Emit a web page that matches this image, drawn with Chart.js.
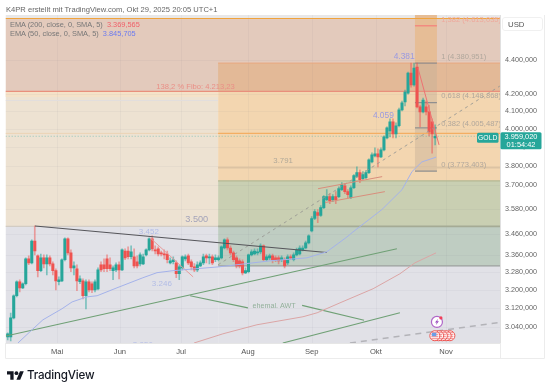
<!DOCTYPE html>
<html><head><meta charset="utf-8">
<script src="https://cdn.jsdelivr.net/npm/chart.js@4"></script>
<style>
html,body{margin:0;padding:0;background:#fff}
#wrap{position:relative;width:550px;height:392px;overflow:hidden;font-family:"Liberation Sans",Arial,sans-serif}
canvas{position:absolute;left:0;top:0;filter:blur(.3px)}
.t{position:absolute;white-space:nowrap}
</style></head><body>
<div id="wrap">
<canvas id="c" width="550" height="392"></canvas>
<div class="t" style="left:6px;top:5px;font-size:7.6px;line-height:10px;color:#666">K4PR erstellt mit TradingView.com, Okt 29, 2025 20:05 UTC+1</div>
<div class="t" style="left:10px;top:20px;font-size:7.4px;line-height:10px;color:#777">EMA (200, close, 0, SMA, 5)&nbsp; <span style="color:#f0606a">3.369,565</span></div>
<div class="t" style="left:10px;top:29px;font-size:7.4px;line-height:10px;color:#777">EMA (50, close, 0, SMA, 5)&nbsp; <span style="color:#6a7af0">3.845,705</span></div>
<div class="t" style="left:502px;top:17px;width:41px;height:14px;box-sizing:border-box;border:1px solid #f0f0f0;border-radius:3px;font-size:7.8px;line-height:13px;color:#555;padding-left:5px">USD</div>
<svg class="t" style="left:7px;top:371px" width="17" height="9" viewBox="0 0 36 18"><path d="M14 18H7V7H0V0h14v18zM28 18h-8L27.5 0h8L28 18z" fill="#131722"/><circle cx="20" cy="4" r="4" fill="#131722"/></svg>
<div class="t" style="left:27px;top:368px;font-size:11.6px;line-height:14px;font-weight:500;font-family:Inter,sans-serif;color:#131722;letter-spacing:-.2px">TradingView</div>
</div>
<script>
const opens=[2999,2999,3079,3175,3237,3210,3228,3341,3323,3425,
3355,3287,3346,3318,3346,3318,3287,3237,3241,3337,
3435,3369,3300,3296,3237,3241,3175,3237,3228,3201,
3205,3314,3314,3341,3314,3287,3291,3314,3291,3378,
3378,3351,3351,3328,3318,3318,3360,3383,3435,3383,
3388,3369,3364,3364,3323,3328,3323,3273,3300,3341,
3355,3328,3305,3291,3309,3323,3355,3346,3351,3337,
3337,3346,3392,3430,3392,3369,3346,3332,3328,3277,
3282,3360,3364,3369,3374,3402,3337,3346,3355,3346,
3346,3337,3337,3323,3351,3337,3360,3364,3383,3392,
3416,3473,3533,3562,3548,3587,3627,3642,3627,3642,
3642,3677,3697,3667,3637,3687,3744,3765,3733,3739,
3765,3821,3853,3864,3848,3885,3950,3988,4039,3972,
4017,4106,4152,4203,4321,4250,4357,4123,4095,4123,
4095,4039,3950];
const highs=[3016,3100,3179,3241,3246,3232,3346,3355,3430,3497,
3360,3364,3360,3360,3355,3328,3296,3259,3341,3440,
3440,3383,3328,3314,3264,3250,3246,3246,3237,3246,
3300,3328,3341,3360,3346,3309,3323,3328,3388,3388,
3397,3402,3388,3355,3369,3364,3388,3440,3450,3402,
3397,3378,3383,3378,3346,3351,3332,3314,3355,3360,
3364,3337,3319,3328,3332,3364,3364,3364,3360,3360,
3355,3402,3435,3440,3402,3378,3355,3341,3337,3300,
3364,3383,3388,3388,3411,3407,3360,3364,3364,3355,
3355,3355,3346,3360,3360,3369,3392,3402,3402,3425,
3454,3543,3577,3577,3597,3647,3677,3657,3652,3667,
3692,3713,3708,3677,3697,3754,3795,3780,3770,3775,
3837,3869,3896,3891,3896,3961,4011,4056,4056,4034,
4117,4157,4221,4327,4381,4381,4381,4134,4174,4157,
4134,4056,4022];
const lows=[2987,2983,3075,3170,3192,3206,3223,3314,3318,3360,
3259,3282,3300,3268,3309,3268,3201,3223,3237,3332,
3360,3282,3268,3197,3228,3161,3118,3192,3188,3192,
3201,3282,3282,3282,3287,3246,3282,3250,3287,3337,
3341,3341,3300,3300,3309,3314,3355,3378,3378,3364,
3355,3355,3341,3323,3318,3318,3255,3246,3291,3332,
3314,3291,3282,3282,3305,3314,3323,3318,3314,3328,
3332,3341,3388,3383,3360,3328,3300,3300,3268,3273,
3277,3355,3360,3360,3364,3332,3332,3337,3323,3328,
3318,3328,3300,3314,3337,3332,3355,3360,3378,3388,
3411,3468,3528,3513,3543,3582,3622,3607,3617,3607,
3637,3672,3657,3637,3632,3682,3739,3713,3728,3733,
3760,3816,3848,3795,3843,3880,3945,3956,3950,3950,
4011,4100,4129,4197,4238,4244,4117,4011,4089,4078,
3961,3868,3912];
const closes=[3012,3079,3175,3237,3210,3228,3341,3323,3425,3378,
3287,3346,3318,3346,3318,3287,3241,3246,3337,3435,
3369,3300,3309,3241,3250,3175,3237,3201,3201,3237,
3291,3291,3296,3296,3296,3300,3314,3291,3383,3346,
3351,3374,3309,3309,3360,3351,3383,3435,3388,3378,
3364,3364,3360,3337,3332,3337,3273,3305,3351,3351,
3323,3305,3291,3314,3323,3351,3346,3351,3323,3346,
3346,3397,3430,3392,3369,3337,3309,3309,3277,3287,
3360,3374,3378,3374,3402,3337,3351,3355,3337,3337,
3332,3346,3309,3351,3346,3360,3383,3392,3392,3416,
3450,3533,3567,3548,3587,3642,3642,3622,3642,3627,
3682,3702,3667,3652,3687,3749,3765,3728,3754,3765,
3832,3858,3864,3848,3885,3956,4005,4039,3972,4017,
4106,4146,4209,4321,4250,4351,4123,4095,4163,4095,
3983,3972,3959];
const priceTicks=[4400,4200,4100,4000,3900,3800,3700,3580,3460,3360,3280,3200,3120,3040];
const monthLabels=["Mai","Jun","Jul","Aug","Sep","Okt","Nov"];
const monthPos=[16.4,37.3,57.6,79.8,101,122.3,145.6];
const ema50=[[3.4,2974],[8.1,3029],[11.7,3071],[18,3118],[21.4,3148],[26.3,3170],[29.7,3175],[36.3,3210],[44.9,3255],[49.6,3278],[54.9,3287],[70.5,3305],[87.1,3332],[99.4,3346],[106,3374],[112.7,3444],[114.7,3468],[124.3,3577],[131,3677],[134.3,3770],[137.6,3821],[142.3,3846]];
const ema200=[[61.9,2974],[71.5,3012],[82.8,3050],[98.1,3084],[102.8,3101],[110.4,3144],[121.4,3206],[130.3,3273],[135.3,3323],[142.3,3369]];
const trendBlack=[[9.07,3497],[106,3371]];
const greenMain=[[-0.6,3003],[129.3,3388]];
const awtA=[[60.6,3175],[79.8,3122]];
const awtB=[[97.8,3133],[118.4,3069]];
const greenLow=[[91.4,2974],[130.3,3101]];
const pinkFall=[[47.3,3440],[61.6,3259]];
const channelUp=[[103.1,3682],[124.4,3744]];
const channelLow=[[105.4,3612],[125.3,3667]];
const redFall=[[136.3,4351],[143.3,3912]];
const dashMain=[[69.9,3314],[163.5,4244]];
const dashLow=[[113.7,2974],[163.5,3060]];
const XMIN=-0.73,XMAX=163.55,PMIN=2974,PMAX=4682.5;
const XFIB=69.9,XBOX0=135.3,XBOX1=142.6;
const zones=[
 [XMIN,XMAX,PMAX,4660,"#e9e8e8"],
 [XMIN,XMAX,4660,4213,"#e3cabc"],
 [XFIB,XMAX,4381,4213,"#e3b997"],
 [XMIN,XFIB,4213,3495,"#ede2d2"],
 [XFIB,XMAX,4213,3722,"#f3d6b0"],
 [XMIN,XFIB,4213,4180,"#f5e2c8"],
 [XFIB,XMAX,3722,3495,"#c9cfb2"],
 [XMIN,XFIB,3495,PMIN,"#e1e1e7"],
 [XFIB,XMAX,3495,3309,"#bfcdc2"],
 [XFIB,XMAX,3309,PMIN,"#e1e1e7"],
 [XBOX0,XBOX1,PMAX,4381,"#e6bd96"],
 [XBOX0,XBOX1,4381,4213,"#d6b597"],
 [XBOX0,XBOX1,4213,3773,"#dfc5a5"]
];
const hLines=[
 [XMIN,XMAX,4660,"#f0a33c",1.2],
 [XMIN,XMAX,4213,"#e98f7c",1.2],
 [XFIB,XMAX,4381,"#e9a77e",1],
 [XMIN,XFIB,4160,"#e2dedd",1],
 [XFIB,XMAX,3791,"#dcc3a3",1.6],
 [XMIN,XFIB,3975,"#ecd3b4",1],
 [XFIB,XMAX,3975,"#f4ae62",1.1],
 [XFIB,XMAX,3722,"#b4b791",1.4],
 [XMIN,XFIB,3495,"#d2ccc4",1.4],
 [XFIB,XMAX,3495,"#a5ab95",1.8],
 [XFIB,XMAX,3309,"#9a9f9d",1.4],
 [XBOX0,XBOX1,4613,"#f28b80",1.4],
 [XBOX0,XBOX1,4381,"#8f8f8f",1.2],
 [XBOX0,XBOX1,4148,"#8f8f8f",1.2],
 [XBOX0,XBOX1,4005,"#8f8f8f",1.2],
 [XBOX0,XBOX1,3773,"#8f8f8f",1.2]
];
const labels=[
 ["4.381",131.7,4420,"#9a9ae0",8.4,"center"],
 ["4.059",124.8,4071,"#9a9ae0",8.4,"center"],
 ["3.791",91.5,3827,"#b0a898",7.8,"center"],
 ["3.500",62.8,3527,"#a4a4ba",9.2,"center"],
 ["3.452",46.9,3470,"#b2bce6",8,"center"],
 ["3.246",51.2,3226,"#b2bce6",8,"center"],
 ["3.056",44.9,2966,"#b2bce6",8,"center"],
 ["ehemal. AWT",88.5,3128,"#92b09a",7.2,"center"],
 ["138,2 % Fibo: 4.213,23",62.4,4237,"#ea8f86",7.6,"center"],
 ["1,382 (4.613,035)",144,4650,"#eea99c",7.6,"left"],
 ["1 (4.380,951)",144,4418,"#b0a79c",7.6,"left"],
 ["0,618 (4.148,868)",144,4184,"#b0a79c",7.6,"left"],
 ["0,382 (4.005,487)",144,4030,"#b0a79c",7.6,"left"],
 ["0 (3.773,403)",144,3806,"#b0a79c",7.6,"left"]
];
const lastPrice=3959.02;
const n=closes.length;
const UP="#26a69a",DN="#ef5350",UPW="rgba(38,166,154,.55)",DNW="rgba(239,83,80,.5)";
const idx=[...closes.keys()];
const pts=a=>a.map(p=>({x:p[0],y:p[1]}));
const line=(a,color,w,extra)=>Object.assign({type:"line",data:pts(a),borderColor:color,borderWidth:w,pointRadius:0,tension:0,order:1},extra||{});
const fmt=v=>{const s=v.toFixed(3).split(".");return s[0].replace(/\B(?=(\d{3})+$)/g,".")+","+s[1]};

const overlay={id:"overlay",
 beforeDatasetsDraw(ch){
  const g=ch.ctx,X=ch.scales.x,Y=ch.scales.y,a=ch.chartArea;
  g.save();g.beginPath();g.rect(a.left,a.top,a.width,a.height);g.clip();
  zones.forEach(z=>{const x0=X.getPixelForValue(z[0]),x1=X.getPixelForValue(z[1]),y0=Y.getPixelForValue(z[2]),y1=Y.getPixelForValue(z[3]);g.fillStyle=z[4];g.fillRect(x0,y0,x1-x0,y1-y0)});
  g.strokeStyle="rgba(90,90,110,.05)";g.lineWidth=1;
  priceTicks.forEach(p=>{const y=Math.round(Y.getPixelForValue(p))+.5;g.beginPath();g.moveTo(a.left,y);g.lineTo(a.right,y);g.stroke()});
  monthPos.forEach(p=>{const x=Math.round(X.getPixelForValue(p))+.5;g.beginPath();g.moveTo(x,a.top);g.lineTo(x,a.bottom);g.stroke()});
  hLines.forEach(l=>{const y=Y.getPixelForValue(l[2]);g.strokeStyle=l[3];g.lineWidth=l[4];g.beginPath();g.moveTo(X.getPixelForValue(l[0]),y);g.lineTo(X.getPixelForValue(l[1]),y);g.stroke()});
  const yl=Y.getPixelForValue(lastPrice);g.setLineDash([1.5,1.5]);g.strokeStyle="rgba(38,166,154,.3)";g.lineWidth=1;g.beginPath();g.moveTo(a.left,yl);g.lineTo(a.right,yl);g.stroke();g.setLineDash([]);
  g.restore();
 },
 afterDraw(ch){
  const g=ch.ctx,X=ch.scales.x,Y=ch.scales.y,a=ch.chartArea;
  g.save();g.beginPath();g.rect(a.left,a.top,a.width,a.height);g.clip();
  g.textBaseline="middle";
  labels.forEach(l=>{g.font=l[4]+'px "Liberation Sans",Arial,sans-serif';g.fillStyle=l[3];g.textAlign=l[5];g.fillText(l[0],X.getPixelForValue(l[1]),Y.getPixelForValue(l[2]))});
  const ex=X.getPixelForValue(142.6),ey=Y.getPixelForValue(3062);
  g.beginPath();g.arc(ex,ey,5.5,0,7);g.fillStyle="#fff";g.fill();g.strokeStyle="#b066c8";g.lineWidth=1.2;g.stroke();
  g.fillStyle="#9c4fc0";g.beginPath();g.moveTo(ex+1.2,ey-3.2);g.lineTo(ex-2,ey+.5);g.lineTo(ex-.2,ey+.5);g.lineTo(ex-1.2,ey+3.2);g.lineTo(ex+2,ey-.7);g.lineTo(ex+.2,ey-.7);g.closePath();g.fill();
  g.beginPath();g.arc(ex+4,ey-4,1.6,0,7);g.fillStyle="#f0405a";g.fill();
  const fy=Y.getPixelForValue(3004);
  for(let k=4;k>=0;k--){const fx=X.getPixelForValue(141.9+k*1.25);g.beginPath();g.arc(fx,fy,5,0,7);g.fillStyle="#fff";g.fill();g.strokeStyle="#ef5350";g.lineWidth=1;g.stroke();
   g.beginPath();for(let s=-3;s<=3;s+=2){g.moveTo(fx-3.5,fy+s);g.lineTo(fx+3.5,fy+s)}g.strokeStyle="#f08080";g.stroke()}
  const fx0=X.getPixelForValue(141.9);g.fillStyle="#6a9ee8";g.fillRect(fx0-3,fy-3,4.5,3.5);
  g.restore();
  const yl=Y.getPixelForValue(lastPrice);
  g.fillStyle=UP;
  g.beginPath();g.roundRect(477,yl-3.5,21.5,10,1.5);g.fill();
  g.beginPath();g.roundRect(a.right+.5,yl-4,41,17,1.5);g.fill();
  g.fillStyle="#fff";g.textBaseline="middle";g.textAlign="center";
  g.font='6.8px "Liberation Sans",Arial,sans-serif';g.fillText("GOLD",487.7,yl+1.5);
  g.font='7.4px "Liberation Sans",Arial,sans-serif';
  g.fillText(fmt(lastPrice),a.right+21,yl+.5);
  g.fillText("01:54:42",a.right+21,yl+8.5);
 }
};

new Chart(document.getElementById("c"),{
 type:"bar",
 data:{datasets:[
  {label:"wicks",data:idx.map(i=>({x:i,y:[lows[i],highs[i]]})),barThickness:1,grouped:false,order:3,
   backgroundColor:idx.map(i=>closes[i]>=opens[i]?UPW:DNW)},
  {label:"bodies",data:idx.map(i=>({x:i,y:[opens[i],closes[i]]})),barThickness:2.4,minBarLength:1,grouped:false,order:2,
   backgroundColor:idx.map(i=>closes[i]>=opens[i]?UP:DN)},
  line(ema50,"#a4b2ea",1),
  line(ema200,"#dba5a5",1),
  line(trendBlack,"#55555a",1.1),
  line(greenMain,"#6fa075",1.1),
  line(awtA,"#6fa075",1.1),
  line(awtB,"#6fa075",1.1),
  line(greenLow,"#6fa075",1.1),
  line(pinkFall,"#e89c9c",1),
  line(channelUp,"#d98e7c",1),
  line(channelLow,"#d98e7c",1),
  line(redFall,"#ee7272",1),
  line(dashMain,"#9a9a94",.9,{borderDash:[3,3.5]}),
  line(dashLow,"#b3b3b8",1.4,{borderDash:[6,5]})
 ]},
 options:{
  responsive:false,animation:false,devicePixelRatio:1,
  layout:{padding:{left:5.5,top:15,right:6,bottom:34}},
  plugins:{legend:{display:false},tooltip:{enabled:false},title:{display:false}},
  scales:{
   x:{type:"linear",offset:false,min:XMIN,max:XMAX,
    grid:{display:false,drawTicks:false,tickLength:0},border:{display:true,color:"#e6e6e6"},
    afterBuildTicks(s){s.ticks=monthPos.map(v=>({value:v}))},
    afterFit(s){s.height=15},
    ticks:{autoSkip:false,maxRotation:0,padding:4,color:"#555",font:{size:7.6,family:'"Liberation Sans",Arial,sans-serif'},
     callback(v){const i=monthPos.indexOf(v);return i<0?"":monthLabels[i]}}},
   y:{type:"logarithmic",position:"right",min:PMIN,max:PMAX,
    grid:{display:false,drawTicks:false,tickLength:0},border:{display:true,color:"#e0e0e0"},
    afterBuildTicks(s){s.ticks=priceTicks.map(v=>({value:v}))},
    afterFit(s){s.width=44},
    ticks:{autoSkip:false,padding:5,color:"#666",font:{size:7.2,family:'"Liberation Sans",Arial,sans-serif'},
     callback(v){return fmt(v)}}}
  }
 },
 plugins:[overlay,{id:"frame",afterDraw(ch){const g=ch.ctx,a=ch.chartArea;g.save();g.strokeStyle="#ececec";g.lineWidth=1;
   g.beginPath();g.moveTo(a.left,358.5);g.lineTo(544.5,358.5);g.moveTo(544.5,15);g.lineTo(544.5,358.5);g.moveTo(500.5,343);g.lineTo(500.5,358.5);g.moveTo(5.5,343);g.lineTo(5.5,358.5);g.stroke();g.restore()}}]
});
</script>
</body></html>
